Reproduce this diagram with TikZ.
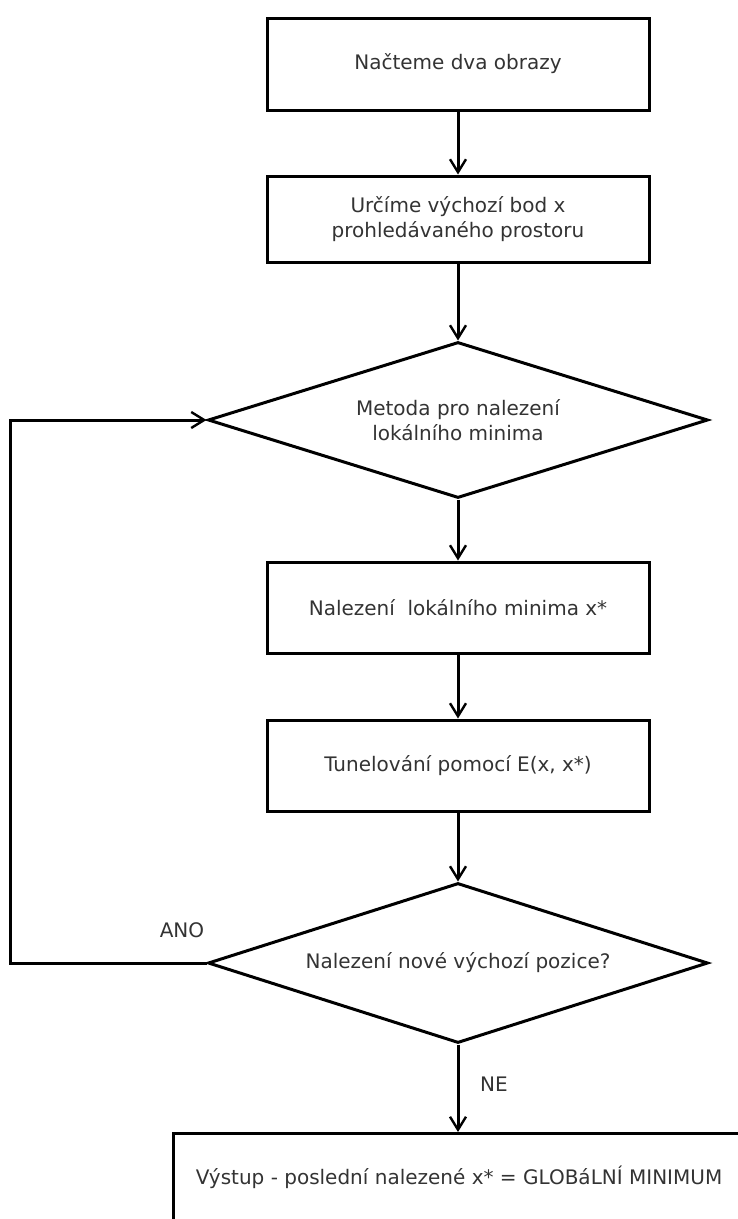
\documentclass[tikz,border=0pt]{standalone}
\usepackage{fontspec}
\setmainfont{DejaVu Sans}
\usetikzlibrary{shapes.geometric,arrows.meta,calc}
\begin{document}
\begin{tikzpicture}[x=1pt,y=-1pt,
  every node/.style={font=\fontsize{20}{25}\selectfont, text=black!80},
  procbox/.style={draw=black, line width=3pt, rectangle, minimum width=382pt, inner sep=0pt, align=center},
  decision/.style={draw=black, line width=3pt, diamond, aspect=3.2, minimum width=500pt, inner sep=0pt, align=center},
  arr/.style={line width=3pt, -{Straight Barb[length=13pt,width=16pt,line width=2.4pt]}}]
\useasboundingbox (0,0) rectangle (738,1219);
\clip (0,0) rectangle (738,1219);
\node[procbox, minimum height=92pt] (b1) at (458,64) {Načteme dva obrazy};
\node[procbox, minimum height=86pt] (b2) at (458,219) {Určíme výchozí bod x\\prohledávaného prostoru};
\node[decision, minimum height=156pt] (d1) at (458,420) {Metoda pro nalezení\\lokálního minima};
\node[procbox, minimum height=91pt] (b3) at (458,607.5) {Nalezení~ lokálního minima x*};
\node[procbox, minimum height=91pt] (b4) at (458,765.5) {Tunelování pomocí E(x, x*)};
\node[decision, minimum height=160pt] (d2) at (458,963) {Nalezení nové výchozí pozice?};
\node[draw=black, line width=3pt, rectangle, minimum width=600pt, minimum height=130pt, anchor=north west, inner sep=0pt] (out) at (172,1132) {};
\node (outtxt) at ($(out.north west)+(287,45)$) {Výstup - poslední nalezené x* = GLOBáLNÍ MINIMUM};
\node (ano) at (182,930) {ANO};
\node (ne) at (494,1084) {NE};
\draw[arr] (b1) -- (b2);
\draw[arr] (b2) -- (d1);
\draw[arr] (d1) -- (b3);
\draw[arr] (b3) -- (b4);
\draw[arr] (b4) -- (d2);
\draw[arr] (d2.south) -- (d2.south |- out.north);
\draw[arr] (d2.west) -- ++(-196,0) |- (d1.west);
\end{tikzpicture}
\end{document}
